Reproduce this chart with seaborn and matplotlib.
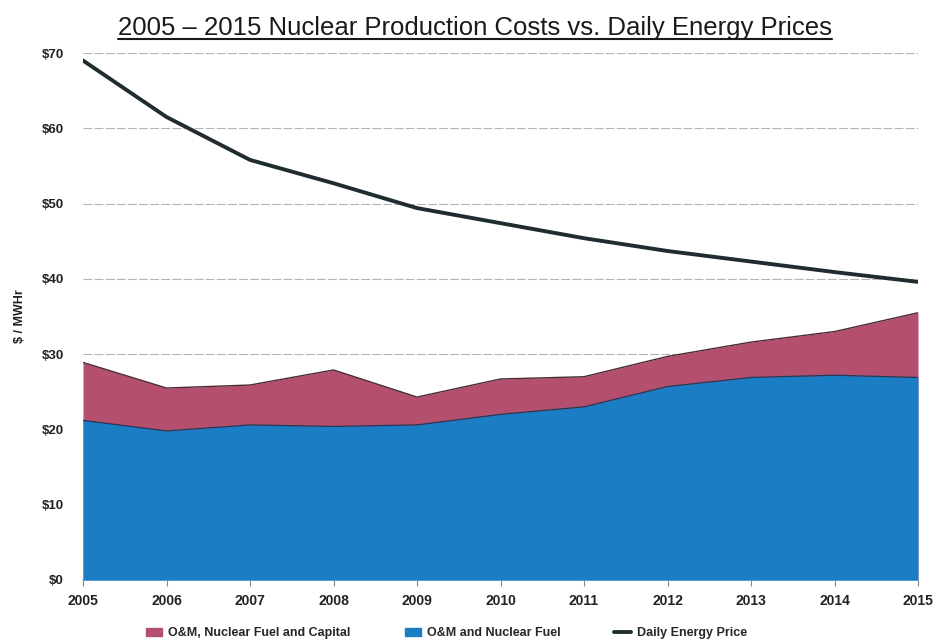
import matplotlib
matplotlib.use("Agg")
import matplotlib.pyplot as plt
from matplotlib.lines import Line2D
from matplotlib.patches import Patch
import seaborn as sns
import pandas as pd

years = [2005, 2006, 2007, 2008, 2009, 2010, 2011, 2012, 2013, 2014, 2015]
om_fuel = [21.2, 19.8, 20.6, 20.4, 20.6, 22.0, 23.0, 25.7, 26.9, 27.2, 26.9]
om_fuel_capital = [28.9, 25.5, 25.9, 27.9, 24.3, 26.7, 27.0, 29.7, 31.6, 33.0, 35.5]
daily_price = [69.0, 61.5, 55.8, 52.7, 49.4, 47.4, 45.4, 43.7, 42.3, 40.9, 39.6]
y_ticks = [0, 10, 20, 30, 40, 50, 60, 70]
y_tick_labels = ["$0", "$10", "$20", "$30", "$40", "$50", "$60", "$70"]

df = pd.DataFrame({"year": years, "om_fuel": om_fuel,
                   "om_fuel_capital": om_fuel_capital, "price": daily_price})

sns.set_theme(style="white")
plt.rcParams["font.family"] = ["Liberation Sans", "DejaVu Sans"]

BLUE = "#1b7ec4"
PINK = "#b4506d"
LINE = "#1f2d31"

fig = plt.figure(figsize=(9.34, 6.44), dpi=100)
ax = fig.add_axes([83 / 934, 1 - 580 / 644, (918 - 83) / 934, (580 - 53) / 644])

for yv in y_ticks[1:]:
    ax.axhline(yv, color="#b5b5b5", lw=0.8, ls=(0, (8, 2)), zorder=0)

ax.fill_between(df["year"], 0, df["om_fuel_capital"], color=PINK, lw=0, zorder=1)
ax.plot(df["year"], df["om_fuel_capital"], color="#4a2a35", lw=1.0, zorder=2)
ax.fill_between(df["year"], 0, df["om_fuel"], color=BLUE, lw=0, zorder=3)
ax.plot(df["year"], df["om_fuel"], color="#23395a", lw=0.9, zorder=4)
sns.lineplot(data=df, x="year", y="price", ax=ax, color=LINE, lw=2.8, zorder=5)

ax.set_xlim(2005, 2015)
ax.set_ylim(0, 70)
ax.set_xticks(years)
ax.set_xticklabels([str(y) for y in years], fontsize=10, fontweight="bold", color="#222222")
ax.set_yticks(y_ticks)
ax.set_yticklabels(y_tick_labels, fontsize=9.5, fontweight="bold", color="#222222")
ax.tick_params(axis="x", length=4, width=0.8, color="#888888", pad=6, bottom=True)
ax.tick_params(axis="y", length=0, pad=14)
for s in ["top", "right", "left"]:
    ax.spines[s].set_visible(False)
ax.spines["bottom"].set_color("#8fc5e8")
ax.spines["bottom"].set_linewidth(1.2)
ax.set_xlabel("")
ax.set_ylabel("$ / MWHr", fontsize=9, fontweight="bold", color="#222222", labelpad=11)

title = fig.text(475 / 934, 1 - 28 / 644, "2005 \u2013 2015 Nuclear Production Costs vs. Daily Energy Prices",
                 ha="center", va="center", fontsize=18.5, color="#1a1a1a")
fig.canvas.draw()
bb = title.get_window_extent().transformed(fig.transFigure.inverted())
fig.add_artist(Line2D([bb.x0, bb.x1], [bb.y0 + 0.002, bb.y0 + 0.002],
                      transform=fig.transFigure, color="#1a1a1a", lw=1.5))

handles = [Patch(color=PINK, label="O&M, Nuclear Fuel and Capital"),
           Patch(color=BLUE, label="O&M and Nuclear Fuel"),
           Line2D([0], [0], color=LINE, lw=2.8, label="Daily Energy Price")]
fig.legend(handles=handles, loc="center", bbox_to_anchor=(0.478, 1 - 633 / 644), ncol=3,
           frameon=False, prop={"size": 9, "weight": "bold"}, handlelength=1.3,
           handleheight=0.6, columnspacing=4.3, handletextpad=0.5)

fig.savefig("out.png", dpi=100)
